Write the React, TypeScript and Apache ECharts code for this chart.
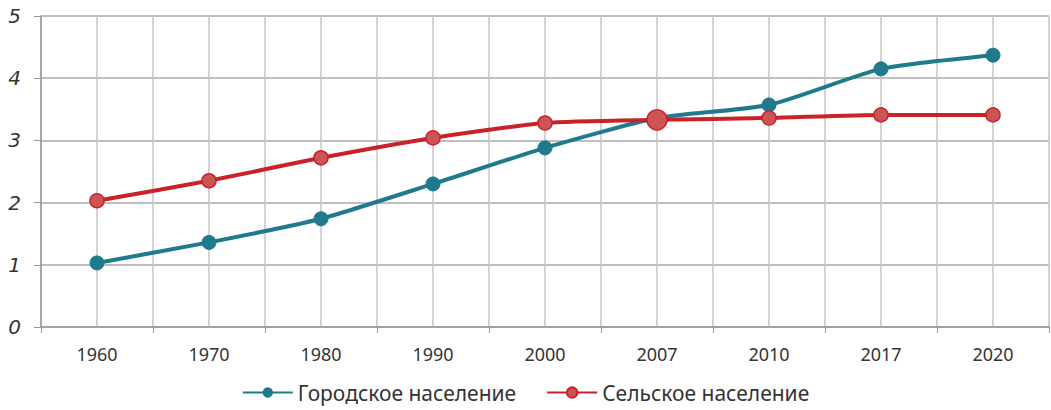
import React, { useEffect, useRef } from "react";
import * as echarts from "echarts";

const years = ["1960", "1970", "1980", "1990", "2000", "2007", "2010", "2017", "2020"];
const urban = [1.03, 1.36, 1.74, 2.3, 2.88, 3.36, 3.57, 4.15, 4.37];
const rural = [2.03, 2.35, 2.72, 3.04, 3.28, 3.33, 3.36, 3.41, 3.41];
const yTicks = { min: 0, max: 5, interval: 1 };
const halfSlots = [...years, ...years].map(() => "");

const TEAL = "#1f7a8c";
const RED = "#c8222b";
const RED_FILL = "#cd5456";

export default function App() {
  const ref = useRef<HTMLDivElement>(null);
  useEffect(() => {
    document.body.style.margin = "0";
    const chart = echarts.init(ref.current!, null, { renderer: "svg" });
    chart.setOption({
      animation: false,
      grid: { left: 41, right: 2, top: 16, bottom: 83 },
      legend: {
        bottom: 2,
        left: "center",
        itemWidth: 50,
        itemHeight: 13,
        itemGap: 30,
        textStyle: { fontSize: 21, color: "#333", fontFamily: "Noto Sans" },
        data: [
          { name: "Городское население", itemStyle: { color: TEAL } },
          { name: "Сельское население", itemStyle: { color: RED_FILL } },
        ],
      },
      xAxis: [
        {
          type: "category",
          data: years,
          boundaryGap: true,
          axisLine: { lineStyle: { color: "#999", width: 1.5 } },
          axisTick: { show: true, length: 6, lineStyle: { color: "#999" } },
          axisLabel: { color: "#333", fontSize: 18, margin: 18, fontFamily: "Noto Sans" },
          splitLine: { show: false },
        },
        {
          type: "category",
          data: halfSlots,
          boundaryGap: true,
          position: "bottom",
          axisLine: { show: false },
          axisTick: { show: false },
          axisLabel: { show: false },
          splitLine: { show: true, interval: 0, lineStyle: { color: "#c4c4c4", width: 1.5 } },
        },
      ],
      yAxis: {
        type: "value",
        ...yTicks,
        axisLine: { show: true, lineStyle: { color: "#999", width: 1.5 } },
        axisTick: { show: true, length: 7, lineStyle: { color: "#999" } },
        axisLabel: { color: "#333", fontSize: 20, fontStyle: "italic", margin: 20, fontFamily: "DejaVu Sans" },
        splitLine: { show: true, lineStyle: { color: "#aaa", width: 1.5 } },
      },
      series: [
        {
          name: "Городское население",
          type: "line",
          data: urban,
          smooth: 0.2,
          symbol: "circle",
          symbolSize: 14,
          lineStyle: { color: TEAL, width: 4 },
          itemStyle: { color: TEAL, borderColor: TEAL },
        },
        {
          name: "Сельское население",
          type: "line",
          data: rural.map((v, i) => (i === 5 ? { value: v, symbolSize: 20 } : v)),
          smooth: 0.2,
          symbol: "circle",
          symbolSize: 14,
          lineStyle: { color: RED, width: 4 },
          itemStyle: { color: RED_FILL, borderColor: RED, borderWidth: 1.5 },
        },
      ],
    });
    return () => chart.dispose();
  }, []);
  return <div ref={ref} style={{ width: 1051, height: 410 }} />;
}
